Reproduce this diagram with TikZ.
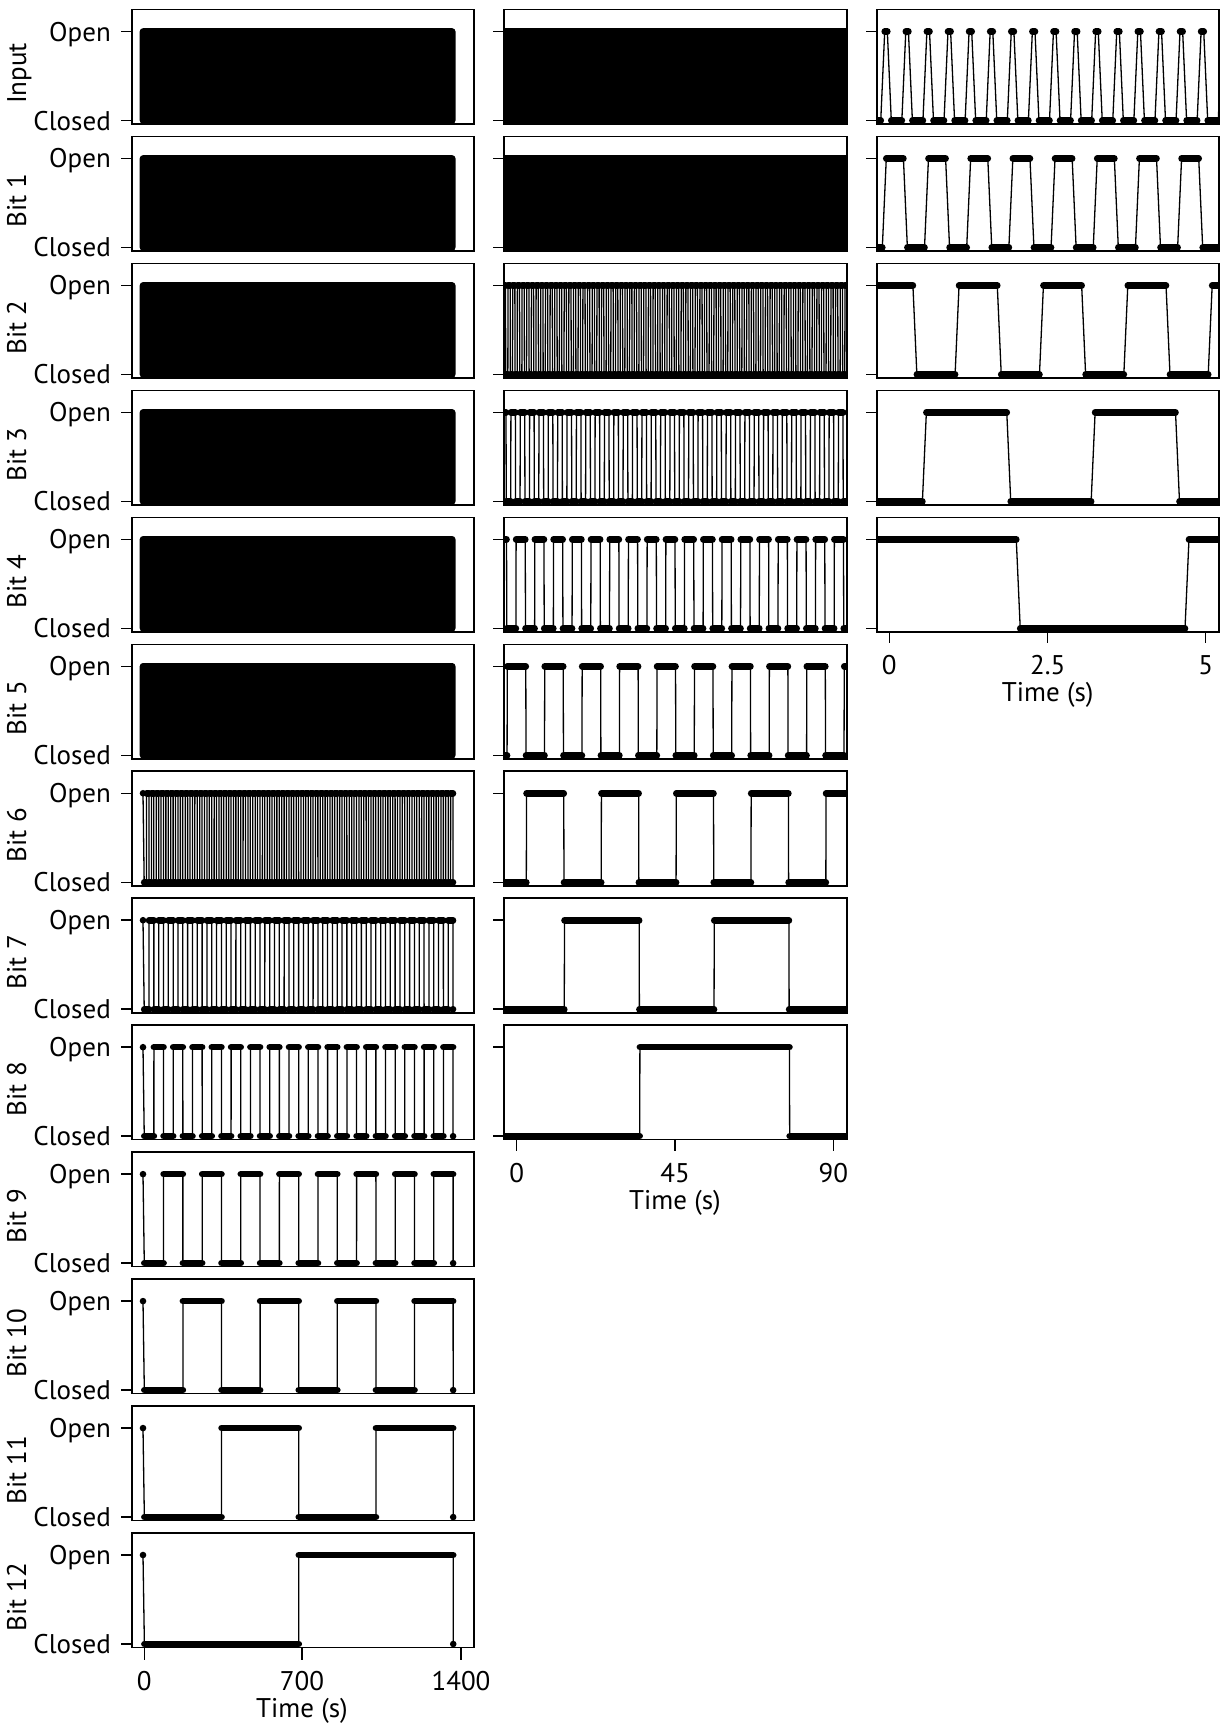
\documentclass[tikz,border=0pt]{standalone}
\usepackage{fontspec}
\setmainfont{PT Sans}
\tikzset{
  box/.style={draw=black, line width=1.6pt},
  lvl/.style={line width=6.6pt, line cap=round},
  trn/.style={line width=1.3pt},
  tck/.style={line width=1.5pt},
  lab/.style={font=\fontsize{27}{30}\selectfont, inner sep=0pt},
}
\def\wTr{0.0625}
\newcommand\setrow[1]{%
  \pgfmathsetmacro\wT{9.5+126.96*#1}%
  \pgfmathsetmacro\wYo{\wT+22}%
  \pgfmathsetmacro\wYc{\wT+111}%
  \pgfmathsetmacro\wBt{\wT+114.5}}
\newcommand\wsegs[2]{%
  \foreach \wm in {#1,...,#2}{%
    \pgfmathsetmacro\wxa{\wXo+\wXs*(\wTb+\wm*\wHp+\wDl)}%
    \pgfmathsetmacro\wxb{\wXo+\wXs*(\wTb+(\wm+1)*\wHp+\wDl)}%
    \pgfmathsetmacro\wxe{\wxb-\wXs*\wTr}%
    \pgfmathtruncatemacro\wodd{mod(\wm,2)}%
    \ifnum\wodd=1 \let\wya\wYo\let\wyb\wYc\else\let\wya\wYc\let\wyb\wYo\fi
    \draw[lvl] (\wxa,\wya) -- (\wxe,\wya);
    \draw[trn] (\wxe,\wya) -- (\wxb,\wyb);
  }}
\begin{document}
\begin{tikzpicture}[x=1pt,y=-1pt]
\useasboundingbox (0,0) rectangle (1225,1729);

% ---------------- column 1 : labels, ticks ----------------
\foreach \rr/\nm in {0/Input,1/Bit 1,2/Bit 2,3/Bit 3,4/Bit 4,5/Bit 5,6/Bit 6,7/Bit 7,8/Bit 8,9/Bit 9,10/Bit 10,11/Bit 11,12/Bit 12}{
  \setrow{\rr}
  \draw[tck] (121,\wYo) -- (132,\wYo);
  \draw[tck] (121,\wYc) -- (132,\wYc);
  \node[lab, anchor=base east] (o\rr) at (111,\wYo+9.5) {Open};
  \node[lab, anchor=base east] (c\rr) at (111,\wYc+9.5) {Closed};
  \node[lab, rotate=90, anchor=base] (n\rr) at (26,\wT+64) {\nm};
}
% dense rows of column 1
\foreach \rr in {0,...,5}{
  \setrow{\rr}
  \fill[rounded corners=3.3pt] (139.7,\wYo-3.3) rectangle (455.5,\wYc+3.3);
}
% counted rows of column 1
\foreach \rr/\hh/\MM/\dd in {6/32/127/18.6, 7/64/63/22.2, 8/128/31/25.8, 9/256/15/29.4, 10/512/7/33, 11/1024/3/36.6, 12/2048/1/40.2}{
  \setrow{\rr}
  \def\wXo{144.3}\def\wXs{0.2262}\def\wTb{-1.3}
  \pgfmathsetmacro\wHp{\hh/3}\pgfmathsetmacro\wDl{\dd/24}
  \wsegs{0}{\MM}
  \pgfmathsetmacro\wxs{\wXo+\wXs*(\wTb+\wDl)}
  \fill (143,\wYo) circle[radius=3.3pt];
  \draw[trn] (143,\wYo) -- (\wxs,\wYc);
  \pgfmathsetmacro\wxz{\wXo+\wXs*(\wTb+4096/3+\wDl)}
  \fill (\wxz,\wYc) circle[radius=3.3pt];
}
\foreach \rr in {0,...,12}{
  \setrow{\rr}
  \draw[box] (132,\wT) rectangle (474,\wBt);
}
% bottom axis column 1
\draw[tck] (144.3,1647.5) -- (144.3,1659.5);
\draw[tck] (302,1647.5) -- (302,1659.5);
\draw[tck] (461,1647.5) -- (461,1659.5);
\node[lab, anchor=base] (a10) at (144.3,1690) {0};
\node[lab, anchor=base] (a11) at (302,1690) {700};
\node[lab, anchor=base] (a12) at (461,1690) {1400};
\node[lab, anchor=base] (a1t) at (302,1717) {Time (s)};

% ---------------- column 2 ----------------
\foreach \rr in {0,1}{
  \setrow{\rr}
  \fill (504,\wYo-3.3) rectangle (847,\wYc+3.3);
}
\foreach \rr/\hh/\ma/\mb/\dd in {2/2/6/154/4.2, 3/4/2/77/7.8, 4/8/0/38/11.4, 5/16/0/19/15, 6/32/0/9/18.6, 7/64/0/4/22.2, 8/128/0/2/25.8}{
  \setrow{\rr}
  \begin{scope}
    \clip (504,\wT) rectangle (847,\wBt);
    \def\wXo{516.7}\def\wXs{3.51}\def\wTb{-8.64}
    \pgfmathsetmacro\wHp{\hh/3}\pgfmathsetmacro\wDl{\dd/24}
    \wsegs{\ma}{\mb}
  \end{scope}
}
\foreach \rr in {0,...,8}{
  \setrow{\rr}
  \draw[tck] (493,\wYo) -- (504,\wYo);
  \draw[tck] (493,\wYc) -- (504,\wYc);
  \draw[box] (504,\wT) rectangle (847,\wBt);
}
\draw[tck] (516.7,1139.2) -- (516.7,1151.2);
\draw[tck] (675,1139.2) -- (675,1151.2);
\draw[tck] (833.3,1139.2) -- (833.3,1151.2);
\node[lab, anchor=base] (a20) at (516.7,1182) {0};
\node[lab, anchor=base] (a21) at (675,1182) {45};
\node[lab, anchor=base] (a22) at (833.3,1182) {90};
\node[lab, anchor=base] (a2t) at (675,1209) {Time (s)};

% ---------------- column 3 ----------------
\setrow{0}
\begin{scope}
  \clip (877,\wT) rectangle (1219,\wBt);
  \foreach \cc in {9,...,27}{
    \pgfmathsetmacro\pa{889.3+63.28*(-3.7394+\cc/3)}
    \pgfmathsetmacro\pb{\pa+2.637}
    \pgfmathsetmacro\pc{\pa+6.59}
    \pgfmathsetmacro\pd{\pa+17.14}
    \pgfmathsetmacro\pe{\pa+21.09}
    \draw[lvl] (\pa,\wYo) -- (\pb,\wYo);
    \draw[trn] (\pb,\wYo) -- (\pc,\wYc);
    \draw[lvl] (\pc,\wYc) -- (\pd,\wYc);
    \draw[trn] (\pd,\wYc) -- (\pe,\wYo);
  }
\end{scope}
\foreach \rr/\hh/\ma/\mb/\dd in {1/1/9/27/0.6, 2/2/4/13/4.2, 3/4/2/6/7.8, 4/8/1/3/11.4}{
  \setrow{\rr}
  \begin{scope}
    \clip (877,\wT) rectangle (1219,\wBt);
    \def\wXo{889.3}\def\wXs{63.28}\def\wTb{-3.7394}
    \pgfmathsetmacro\wHp{\hh/3}\pgfmathsetmacro\wDl{\dd/24}
    \wsegs{\ma}{\mb}
  \end{scope}
}
\foreach \rr in {0,...,4}{
  \setrow{\rr}
  \draw[tck] (866,\wYo) -- (877,\wYo);
  \draw[tck] (866,\wYc) -- (877,\wYc);
  \draw[box] (877,\wT) rectangle (1219,\wBt);
}
\draw[tck] (889.3,631.3) -- (889.3,643.3);
\draw[tck] (1047.7,631.3) -- (1047.7,643.3);
\draw[tck] (1205.7,631.3) -- (1205.7,643.3);
\node[lab, anchor=base] (a30) at (889.3,674) {0};
\node[lab, anchor=base] (a31) at (1047.7,674) {2.5};
\node[lab, anchor=base] (a32) at (1205.7,674) {5};
\node[lab, anchor=base] (a3t) at (1047.7,701) {Time (s)};
\end{tikzpicture}
\end{document}
